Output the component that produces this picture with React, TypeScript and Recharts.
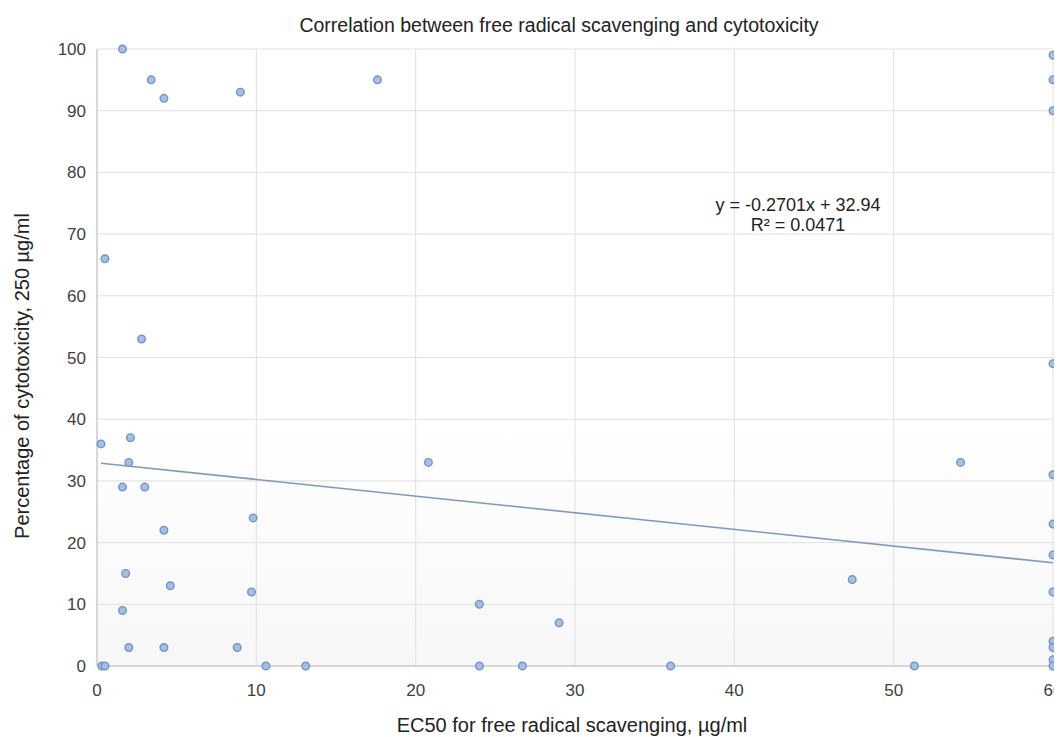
import React from 'react';
import { ScatterChart, Scatter, XAxis, YAxis, CartesianGrid, ReferenceLine } from 'recharts';

// EC50 for free radical scavenging (µg/ml)
const ec50 = [
  1.6, 3.4, 4.2, 9.0, 17.6, 0.5, 2.8, 0.25, 2.1, 2.0, 1.6, 3.0, 4.2, 9.8, 1.8, 4.6, 9.7, 1.6,
  2.0, 4.2, 8.8, 0.3, 0.5, 10.6, 13.1, 24.0, 26.7, 36.0, 51.3, 20.8, 24.0, 29.0, 47.4, 54.2,
  60, 60, 60, 60, 60, 60, 60, 60, 60, 60, 60, 60,
];
// Percentage of cytotoxicity at 250 µg/ml
const cytotoxicity = [
  100, 95, 92, 93, 95, 66, 53, 36, 37, 33, 29, 29, 22, 24, 15, 13, 12, 9,
  3, 3, 3, 0, 0, 0, 0, 0, 0, 0, 0, 33, 10, 7, 14, 33,
  99, 95, 90, 49, 31, 23, 18, 12, 4, 3, 1, 0,
];

const xTicks = [0, 10, 20, 30, 40, 50, 60];
const yTicks = [0, 10, 20, 30, 40, 50, 60, 70, 80, 90, 100];

// linear trendline as printed on the chart
const slope = -0.2701;
const intercept = 32.94;

const points = ec50.map((x, i) => ({ x, y: cytotoxicity[i] }));
const xMin = Math.min(...ec50);
const xMax = Math.max(...ec50);

const FONT = '"Liberation Sans", Arial, sans-serif';
const TEXT = '#404040';

const Dot = (props: any) => (
  <circle cx={props.cx} cy={props.cy} r={3.8} fill="#a6bfe4" stroke="#7593c7" strokeWidth={1.4} />
);

const label: React.CSSProperties = {
  position: 'absolute',
  color: '#222',
  whiteSpace: 'nowrap',
};

export default function App() {
  return (
    <div style={{ position: 'relative', width: 1054, height: 729, fontFamily: FONT }}>
      <ScatterChart width={1054} height={729} margin={{ top: 41, right: 9, bottom: 0, left: 0 }}>
        <defs>
          <linearGradient id="plotBg" x1="0" y1="0" x2="0" y2="1">
            <stop offset="0%" stopColor="#ffffff" />
            <stop offset="60%" stopColor="#ffffff" />
            <stop offset="100%" stopColor="#f7f7f7" />
          </linearGradient>
        </defs>
        <CartesianGrid stroke="#e0e0e0" fill="url(#plotBg)" />
        <XAxis
          type="number"
          dataKey="x"
          domain={[0, 60]}
          ticks={xTicks}
          height={71}
          tickSize={0}
          tickMargin={18}
          stroke="#c0c0c0"
          tick={{ fill: TEXT, fontSize: 17, fontFamily: FONT }}
        />
        <YAxis
          type="number"
          dataKey="y"
          domain={[0, 100]}
          ticks={yTicks}
          width={89}
          tickSize={0}
          tickMargin={11}
          stroke="#c0c0c0"
          tick={{ fill: TEXT, fontSize: 17, fontFamily: FONT }}
        />
        <ReferenceLine
          segment={[
            { x: xMin, y: slope * xMin + intercept },
            { x: xMax, y: slope * xMax + intercept },
          ]}
          stroke="#7f99bb"
          strokeWidth={1.6}
        />
        <Scatter data={points} shape={Dot} isAnimationActive={false} />
      </ScatterChart>

      <div style={{ ...label, left: 551, top: 5, transform: 'translateX(-50%)', fontSize: 19.5, lineHeight: '24px' }}>
        Correlation between free radical scavenging and cytotoxicity
      </div>
      <div style={{ ...label, left: 790, top: 187, transform: 'translateX(-50%)', fontSize: 18, lineHeight: '20px', textAlign: 'center' }}>
        y = -0.2701x + 32.94
        <br />
        R² = 0.0471
      </div>
      <div style={{ ...label, left: 14, top: 368, transform: 'translate(-50%, -50%) rotate(-90deg)', fontSize: 20, lineHeight: '24px' }}>
        Percentage of cytotoxicity, 250 µg/ml
      </div>
      <div style={{ ...label, left: 564, top: 706, transform: 'translateX(-50%)', fontSize: 20, lineHeight: '22px' }}>
        EC50 for free radical scavenging, µg/ml
      </div>
    </div>
  );
}
